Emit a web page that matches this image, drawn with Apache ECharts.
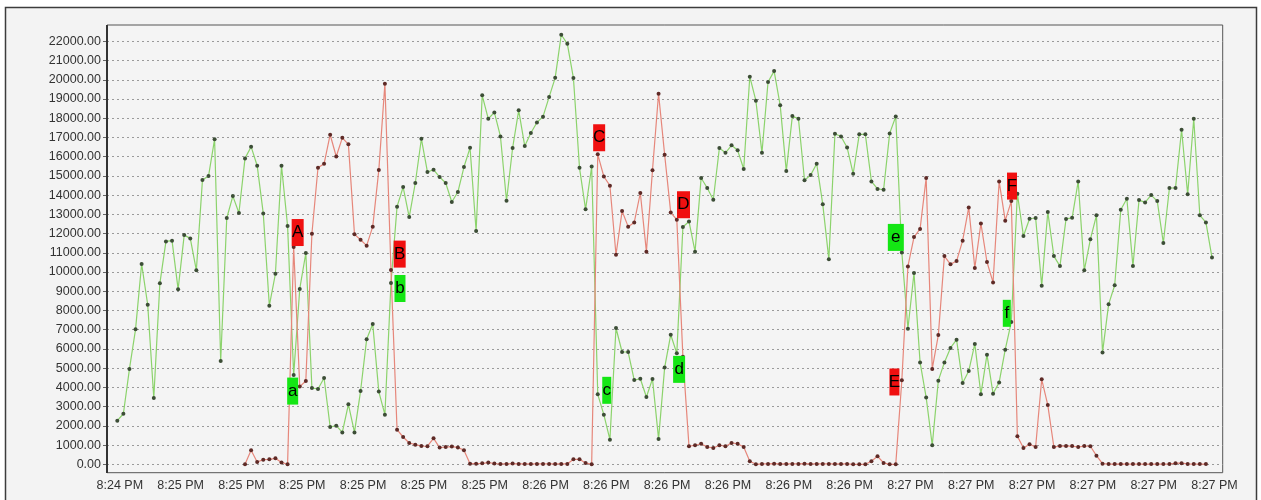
<!DOCTYPE html>
<html lang="en">
<head>
    <meta charset="UTF-8">
    <title>Series swap</title>
    <script type="text/javascript" src="https://cdn.jsdelivr.net/npm/echarts@6.0.0/dist/echarts.min.js"></script>
    <style>
        body { margin: 0; background: #fff; }
    </style>
</head>
<body>
<div id="chartmain" style="width:1261px;height:500px"></div>
<script>
    // one point per second, label every 10 points
    var tickLabels = ['8:24 PM', '8:25 PM', '8:25 PM', '8:25 PM', '8:25 PM', '8:25 PM', '8:25 PM',
        '8:26 PM', '8:26 PM', '8:26 PM', '8:26 PM', '8:26 PM', '8:26 PM',
        '8:27 PM', '8:27 PM', '8:27 PM', '8:27 PM', '8:27 PM', '8:27 PM'];

    var greenValues = [
        2270, 2630, 4960, 7020, 10420, 8300, 3450, 9410, 11590, 11630,
        9100, 11920, 11750, 10090, 14780, 14990, 16910, 5370, 12810, 13950,
        13070, 15910, 16520, 15530, 13050, 8250, 9910, 15530, 12390, 4640,
        9120, 10990, 3970, 3920, 4490, 1940, 2010, 1660, 3120, 1660,
        3810, 6500, 7300, 3780, 2580, 9430, 13400, 14420, 12860, 14630,
        16930, 15200, 15320, 14940, 14630, 13640, 14160, 15460, 16460, 12130,
        19190, 17970, 18300, 17050, 13710, 16450, 18410, 16550, 17230, 17780,
        18080, 19100, 20100, 22340, 21870, 20090, 15420, 13260, 15490, 3640,
        2580, 1280, 7090, 5840, 5840, 4380, 4450, 3500, 4440, 1320,
        5030, 6740, 5770, 12340, 12630, 11060, 14890, 14370, 13760, 16450,
        16200, 16590, 16330, 15360, 20160, 18910, 16200, 19880, 20450, 18670,
        15250, 18110, 17970, 14770, 15040, 15630, 13520, 10660, 17190, 17050,
        16480, 15110, 17160, 17160, 14710, 14320, 14280, 17210, 18090, 11020,
        7050, 9950, 5300, 3480, 990, 4350, 5300, 6050, 6480, 4230,
        4850, 6260, 3640, 5700, 3670, 4260, 5960, 7400, 14070, 11870,
        12770, 12810, 9290, 13120, 10830, 10310, 12760, 12820, 14710, 10090,
        11700, 12950, 5820, 8320, 9310, 13240, 13810, 10310, 13740, 13620,
        14000, 13690, 11510, 14370, 14370, 17400, 14040, 17970, 12950, 12580,
        10750
    ];

    var redValues = [
        null, null, null, null, null, null, null, null, null, null,
        null, null, null, null, null, null, null, null, null, null,
        null, 0, 730, 120, 240, 260, 310, 100, 0, 11300,
        4040, 4330, 11990, 15420, 15630, 17140, 16010, 16980, 16640, 11960,
        11680, 11370, 12360, 15300, 19790, 10100, 1800, 1420, 1110, 1020,
        950, 940, 1350, 870, 900, 920, 880, 730, 30, 30,
        50, 90, 40, 20, 20, 40, 20, 20, 20, 20,
        20, 20, 20, 20, 20, 260, 260, 70, 0, 16120,
        14970, 14490, 10900, 13170, 12360, 12580, 14110, 11060, 15290, 19270,
        16100, 13090, 12720, 5600, 940, 990, 1070, 900, 850, 990,
        940, 1110, 1070, 900, 160, 0, 20, 20, 30, 20,
        20, 20, 20, 30, 20, 20, 20, 20, 20, 20,
        20, 0, 0, 0, 160, 420, 70, 0, 0, 4370,
        10290, 11820, 12240, 14890, 4960, 6720, 10830, 10400, 10570, 11630,
        13360, 10210, 12530, 10520, 9460, 14710, 12670, 13690, 1460, 850,
        1040, 900, 4420, 3080, 900, 950, 950, 950, 900, 950,
        940, 450, 30, 10, 10, 20, 10, 10, 10, 10,
        10, 10, 10, 10, 60, 60, 20, 10, 10, 10,
        null
    ];

    // annotated switch points
    var redMarkNames = ['A', 'B', 'C', 'D', 'E', 'F'];
    var greenMarkNames = ['a', 'b', 'c', 'd', 'e', 'f'];
    var markIndex = [29, 45, 79, 92, 129, 147];

    var categories = [];
    for (var i = 0; i < greenValues.length; i++) {
        categories.push(String(i));
    }

    // box offsets / sizes for the letter tags
    var redBox = [[4, -14.5, 12], [8.7, -16, 12], [1.4, -16.6, 12], [6.7, -15, 13], [-7.4, 1.7, 10], [0.7, -15, 10]];
    var greenBox = [[-1, 16, 11], [9, 5.5, 11], [9, -4, 9], [2.3, 16, 12], [-6, -15, 16], [-4.5, -8.7, 8]];

    function marks(names, values, boxes, fill) {
        return names.map(function (n, k) {
            var idx = markIndex[k];
            return {
                name: n,
                coord: [idx, values[idx]],
                symbol: 'rect',
                symbolSize: [boxes[k][2], 27],
                symbolOffset: [boxes[k][0], boxes[k][1]],
                itemStyle: { color: fill },
                label: { show: true, formatter: '{b}', color: '#000', fontSize: 17, fontFamily: 'Liberation Sans' }
            };
        });
    }

    var font = 'Liberation Sans, Arial, sans-serif';

    var option = {
        animation: false,
        graphic: [
            { type: 'rect', z: -10, silent: true, shape: { x: 5.5, y: 7.5, width: 1251, height: 520 },
                style: { fill: '#f3f3f3', stroke: '#3c3c3c', lineWidth: 1.5 } },
            { type: 'rect', z: -9, silent: true, shape: { x: 107, y: 25, width: 1115.7, height: 447.7 },
                style: { fill: '#f4f4f4', stroke: '#555', lineWidth: 1 } },
            { type: 'line', z: 5, silent: true, shape: { x1: 107, y1: 25, x2: 107, y2: 473 },
                style: { stroke: '#333', lineWidth: 2 } }
        ],
        grid: [
            { left: 107, right: 38.3, top: 41.3, bottom: 35.7, outerBoundsMode: 'none' },
            { left: 117.3, right: 49, top: 41.3, bottom: 35.7, outerBoundsMode: 'none' }
        ],
        xAxis: [
            { gridIndex: 0, type: 'value', show: false, min: 0, max: 1 },
            {
                gridIndex: 1,
                type: 'category',
                boundaryGap: false,
                data: categories,
                axisLine: { show: false },
                axisTick: { show: false },
                splitLine: { show: false },
                axisLabel: {
                    interval: 9,
                    margin: 15,
                    padding: [0, 0, 0, 5],
                    color: '#333',
                    fontSize: 12.5,
                    fontFamily: font,
                    formatter: function (v, idx) {
                        return tickLabels[Math.round(idx / 10)];
                    }
                }
            }
        ],
        yAxis: [
            {
                gridIndex: 0,
                type: 'value',
                min: 0,
                max: 22000,
                interval: 1000,
                axisLine: { show: false },
                axisTick: { show: true, length: 4, lineStyle: { color: '#666' } },
                axisLabel: {
                    margin: 6,
                    color: '#333',
                    fontSize: 12.5,
                    fontFamily: font,
                    formatter: function (v) { return v.toFixed(2); }
                },
                splitLine: { show: true, lineStyle: { color: '#9a9a9a', type: [2, 3], width: 1 } }
            },
            { gridIndex: 1, type: 'value', min: 0, max: 22000, show: false }
        ],
        series: [
            {
                name: 'green',
                type: 'line',
                xAxisIndex: 1,
                yAxisIndex: 1,
                data: greenValues,
                clip: false,
                symbol: 'circle',
                symbolSize: 4,
                showAllSymbol: true,
                lineStyle: { color: '#8cd36c', width: 1.2 },
                itemStyle: { color: '#3c4d36' },
                emphasis: { disabled: true },
                markPoint: { silent: true, data: marks(greenMarkNames, greenValues, greenBox, '#14e614') }
            },
            {
                name: 'red',
                type: 'line',
                xAxisIndex: 1,
                yAxisIndex: 1,
                data: redValues,
                clip: false,
                symbol: 'circle',
                symbolSize: 4,
                showAllSymbol: true,
                lineStyle: { color: '#e6877b', width: 1.2 },
                itemStyle: { color: '#5e2a26' },
                emphasis: { disabled: true },
                markPoint: { silent: true, data: marks(redMarkNames, redValues, redBox, '#f01010') }
            }
        ]
    };

    var myChart = echarts.init(document.getElementById('chartmain'));
    myChart.setOption(option);
</script>
</body>
</html>
